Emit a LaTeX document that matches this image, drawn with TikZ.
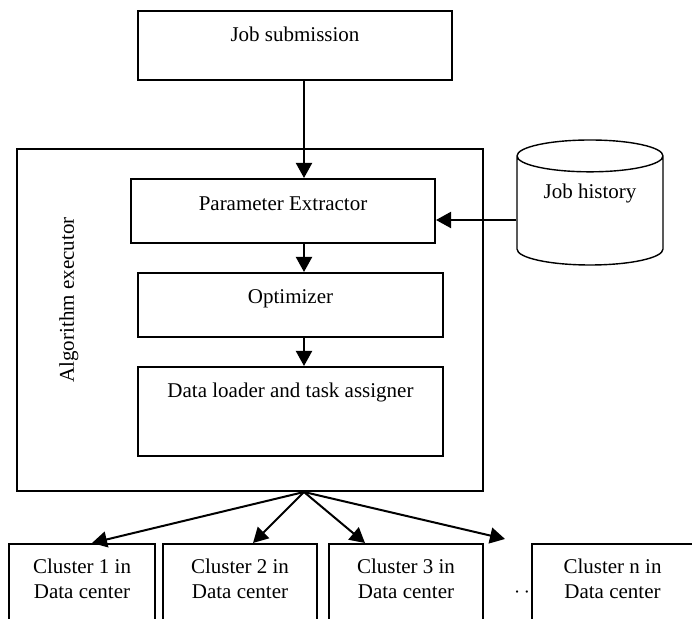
\documentclass[tikz,border=0pt]{standalone}
\usepackage{fontspec}
\setmainfont{Liberation Serif}
\usetikzlibrary{arrows.meta,shapes.geometric}

\tikzset{
  box/.style={draw, line width=1pt, inner sep=0pt, text height=15.5pt},
  cluster/.style={draw, line width=1pt, fill=white, anchor=north, inner sep=0pt,
    text width=#1, align=flush center, text height=15pt, text depth=45pt},
  link/.style={-{Triangle[length=7.5pt,width=8pt]}, line width=1pt}
}

\begin{document}
\begin{tikzpicture}[x=0.5pt, y=-0.5pt, font=\fontsize{10.5pt}{12.5pt}\selectfont]
  \useasboundingbox (0,0) rectangle (692,619);
  \clip (0,0) rectangle (692,619);
  \coordinate (spine) at (304,0);

  % executor frame
  \node[draw, line width=1pt, minimum width=233pt, minimum height=171pt] (exec) at (250,320) {};
  \node[rotate=90, anchor=base] (execname) at (74,300) {Algorithm executor};

  \node[box, minimum width=157pt, text height=15.25pt, text depth=19.25pt] (submit) at (295,45.5) {Job submission};
  \node[box, minimum width=152pt, text height=15.75pt, text depth=16.25pt] (pe) at (283,211) {Parameter Extractor};
  \node[box, minimum width=152.5pt, text depth=16.5pt] (opt) at (290.5,305) {Optimizer};
  \node[box, minimum width=152.5pt, text depth=29pt] (dl) at (290.5,411.5) {Data loader and task assigner};

  \node[draw, line width=0.7pt, cylinder, shape border rotate=90, aspect=0.3, anchor=shape center,
    minimum width=73pt, minimum height=62.5pt, text height=7pt, text depth=22.5pt] (hist) at (590,202.5) {Job history};

  % clusters
  \node[anchor=base] (etc) at (527,598) {$\cdots$};
  \node[cluster=73pt] (c1) at (82,543) {Cluster 1 in\\Data center};
  \node[cluster=77pt] (c2) at (240,543) {Cluster 2 in\\Data center};
  \node[cluster=77pt] (c3) at (406,543) {Cluster 3 in\\Data center};
  \node[cluster=80.5pt] (cn) at (612.5,543) {Cluster n in\\Data center};

  \draw[link] (submit.south -| spine) -- (pe.north -| spine);
  \draw[link] (pe.south -| spine) -- (opt.north -| spine);
  \draw[link] (opt.south -| spine) -- (dl.north -| spine);
  \draw[link] ([yshift=-4.5pt]pe.east -| hist.west) -- ([yshift=-4.5pt]pe.east);

  \coordinate (fan) at (exec.south -| spine);
  \coordinate (gap) at (505,539);
  \draw[link] (fan) -- ([xshift=5pt]c1.north);
  \draw[link] (fan) -- ([xshift=6.5pt]c2.north);
  \draw[link] (fan) -- ([xshift=-20.5pt]c3.north);
  \draw[link] (fan) -- (gap);
\end{tikzpicture}
\end{document}
